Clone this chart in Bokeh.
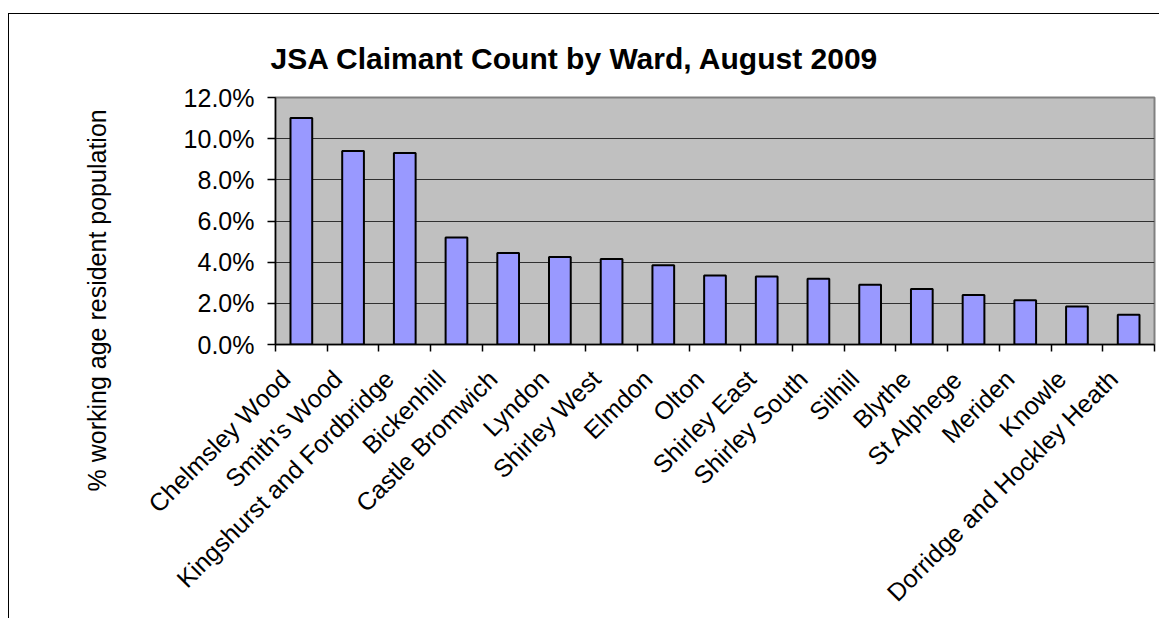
from bokeh.plotting import figure
from bokeh.models import (ColumnDataSource, FixedTicker, PrintfTickFormatter,
                          Range1d, Title)
from bokeh.embed import file_html
from bokeh.resources import INLINE
import math

# ---- data ----
wards = ["Chelmsley Wood", "Smith's Wood", "Kingshurst and Fordbridge",
         "Bickenhill", "Castle Bromwich", "Lyndon", "Shirley West", "Elmdon",
         "Olton", "Shirley East", "Shirley South", "Silhill", "Blythe",
         "St Alphege", "Meriden", "Knowle", "Dorridge and Hockley Heath"]
claimant_pct = [11.0, 9.4, 9.3, 5.2, 4.45, 4.25, 4.15, 3.85, 3.35, 3.3, 3.2,
                2.9, 2.7, 2.4, 2.15, 1.85, 1.45]
y_ticks = [0, 2, 4, 6, 8, 10, 12]
title_text = "JSA Claimant Count by Ward, August 2009"
y_label_text = "% working age resident population"

n = len(wards)
centers = [i + 0.5 for i in range(n)]
boundaries = list(range(n + 1))
# label anchors sit slightly left of the bar centres (as in the original)
label_pos = [c - 0.3 for c in centers]

src = ColumnDataSource(dict(x=centers, top=claimant_pct, ward=wards))

FONT = "Liberation Sans"

p = figure(width=1151, height=605, output_backend="svg", toolbar_location=None,
           x_range=Range1d(0, n), y_range=Range1d(0, 12),
           min_border_left=266, min_border_top=83, min_border_right=6,
           min_border_bottom=274)
p.margin = (13, 0, 0, 8)
p.styles = {"border-top": "1px solid #000000", "border-left": "1px solid #000000"}

p.background_fill_color = "#C0C0C0"
p.border_fill_color = "white"
p.outline_line_color = "#808080"
p.outline_line_width = 2

p.vbar(x="x", top="top", width=0.42, bottom=0, source=src,
       fill_color="#9999FF", line_color="black", line_width=2)

# grid
p.xgrid.visible = False
p.ygrid.ticker = FixedTicker(ticks=y_ticks)
p.ygrid.grid_line_color = "#303030"
p.ygrid.grid_line_width = 1

# y axis
p.yaxis.ticker = FixedTicker(ticks=y_ticks)
p.yaxis.formatter = PrintfTickFormatter(format="%.1f%%")
p.yaxis.major_label_text_font = FONT
p.yaxis.major_label_text_font_size = "25px"
p.yaxis.major_label_text_color = "black"
p.yaxis.major_tick_out = 8
p.yaxis.major_tick_in = 0
p.yaxis.minor_tick_line_color = None
p.yaxis.axis_line_color = "black"
p.yaxis.axis_line_width = 1.5
p.yaxis.major_tick_line_width = 1.5
p.yaxis.major_label_standoff = 13

# x axis
p.xaxis.ticker = FixedTicker(ticks=label_pos, minor_ticks=boundaries)
p.xaxis.major_label_overrides = {c: w for c, w in zip(label_pos, wards)}
p.xaxis.major_label_orientation = math.pi / 4
p.xaxis.major_label_text_font = FONT
p.xaxis.major_label_text_font_size = "25px"
p.xaxis.major_label_text_color = "black"
p.xaxis.major_tick_line_color = None
p.xaxis.major_tick_out = 0
p.xaxis.major_tick_in = 0
p.xaxis.minor_tick_out = 7
p.xaxis.minor_tick_in = 0
p.xaxis.minor_tick_line_color = "black"
p.xaxis.minor_tick_line_width = 1.5
p.xaxis.axis_line_color = "black"
p.xaxis.axis_line_width = 1.5
p.xaxis.major_label_standoff = 23

# title above, shifted so it is centred on the whole chart
p.add_layout(Title(text=title_text, align="left", offset=-5, standoff=45,
                   text_font=FONT, text_font_size="30px",
                   text_font_style="bold", text_color="black"), "above")
# y label as a side title, shifted down relative to the frame
p.add_layout(Title(text=y_label_text, align="left", offset=-147, standoff=140,
                   text_font=FONT, text_font_size="25px",
                   text_font_style="normal", text_color="black"), "left")

open("out.html", "w").write(file_html(p, INLINE))
